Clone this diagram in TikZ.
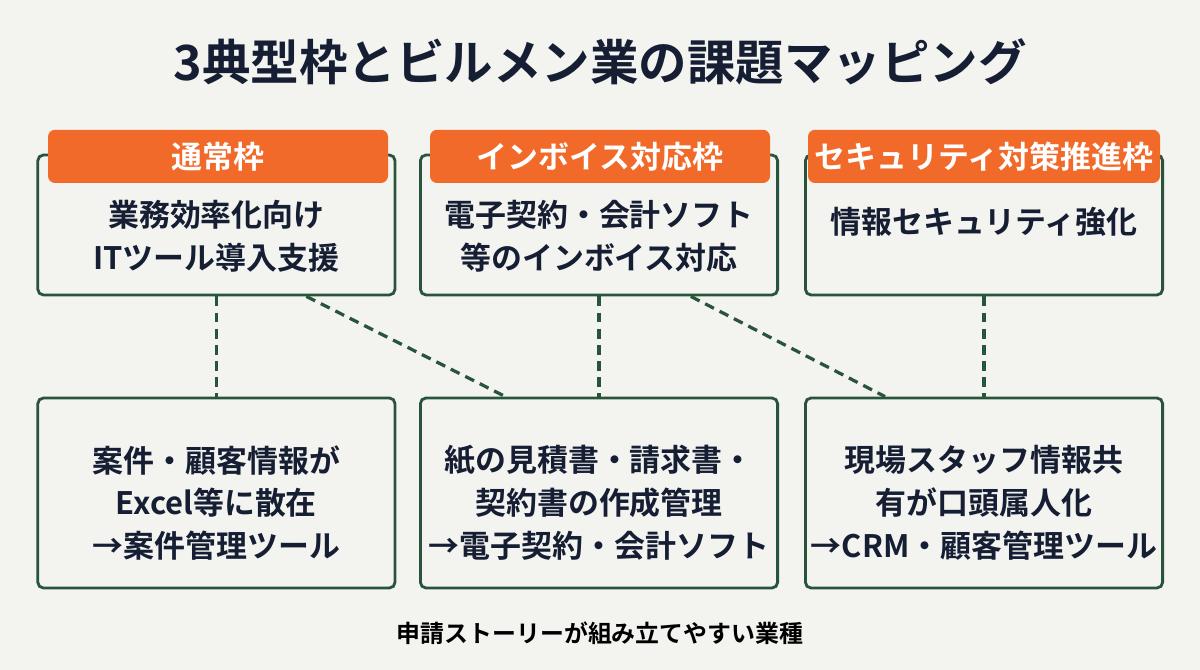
\documentclass[tikz,border=0pt]{standalone}
\usepackage{fontspec}
\setmainfont{Noto Sans CJK JP}[BoldFont={* Bold}]
\usetikzlibrary{calc}
\definecolor{bgpaper}{RGB}{243,244,239}
\definecolor{framegreen}{RGB}{40,84,60}
\definecolor{taborange}{RGB}{241,106,42}
\definecolor{inknavy}{RGB}{22,30,52}

\begin{document}
\begin{tikzpicture}[
  frame/.style={draw=framegreen,line width=2pt,rounded corners=4pt,fill=bgpaper,
    minimum width=8.93cm,inner sep=0pt},
  tab/.style={fill=taborange,rounded corners=5pt,minimum height=1.33cm,inner sep=0pt,
    text=white,font=\fontsize{22}{26}\selectfont\bfseries},
  boxtext/.style={align=center,text=inknavy,font=\fontsize{22}{30.5}\selectfont\bfseries},
  link/.style={draw=framegreen,line width=2.3pt,dash pattern=on 7pt off 4.5pt}
]
\useasboundingbox (0,0) rectangle (30,16.75);
\fill[bgpaper] (0,0) rectangle (30,16.75);

% ===== title =====
\node[text=inknavy,font=\fontsize{34.5}{40}\selectfont\bfseries] (title) at (15,15.2)
  {3典型枠とビルメン業の課題マッピング};

% ===== top row: frames =====
\node[frame,minimum height=3.5cm] (t1) at (5.41,11.125) {};
\node[frame,minimum height=3.5cm] (t2) at (14.975,11.125) {};
\node[frame,minimum height=3.5cm] (t3) at (24.6,11.125) {};
\node[tab,minimum width=8.5cm] (tab1) at (5.45,12.84) {通常枠};
\node[tab,minimum width=8.5cm] (tab2) at (15.0,12.84) {インボイス対応枠};
\node[tab,minimum width=8.8cm] (tab3) at (24.6,12.84) {セキュリティ対策推進枠};
\node[boxtext] (tx1) at (5.41,10.84) {業務効率化向け\\ITツール導入支援};
\node[boxtext] (tx2) at (14.975,10.84) {電子契約・会計ソフト\\等のインボイス対応};
\node[boxtext] (tx3) at (24.6,11.2) {情報セキュリティ強化};

% ===== bottom row: issues =====
\node[frame,minimum height=4.75cm] (b1) at (5.41,4.425) {};
\node[frame,minimum height=4.75cm] (b2) at (14.975,4.425) {};
\node[frame,minimum height=4.75cm] (b3) at (24.6,4.425) {};
\node[boxtext] (bx1) at (5.41,4.175) {案件・顧客情報が\\Excel等に散在\\→案件管理ツール};
\node[boxtext] (bx2) at (14.975,4.175) {紙の見積書・請求書・\\契約書の作成管理\\→電子契約・会計ソフト};
\node[boxtext] (bx3) at (24.6,4.175) {現場スタッフ情報共\\有が口頭属人化\\→CRM・顧客管理ツール};

% ===== links =====
\draw[link] (t1.south) -- (b1.north);
\draw[link] (t2.south) -- (b2.north);
\draw[link] (t3.south) -- (b3.north);
\draw[link] ($(t1.south west)!0.75!(t1.south east)$) -- ($(b2.north west)!0.24!(b2.north east)$);
\draw[link] ($(t2.south west)!0.755!(t2.south east)$) -- ($(b3.north west)!0.225!(b3.north east)$);

% footer
\node[text=black,font=\fontsize{17}{20}\selectfont\bfseries] (foot) at (15,0.925)
  {申請ストーリーが組み立てやすい業種};

\end{tikzpicture}
\end{document}
